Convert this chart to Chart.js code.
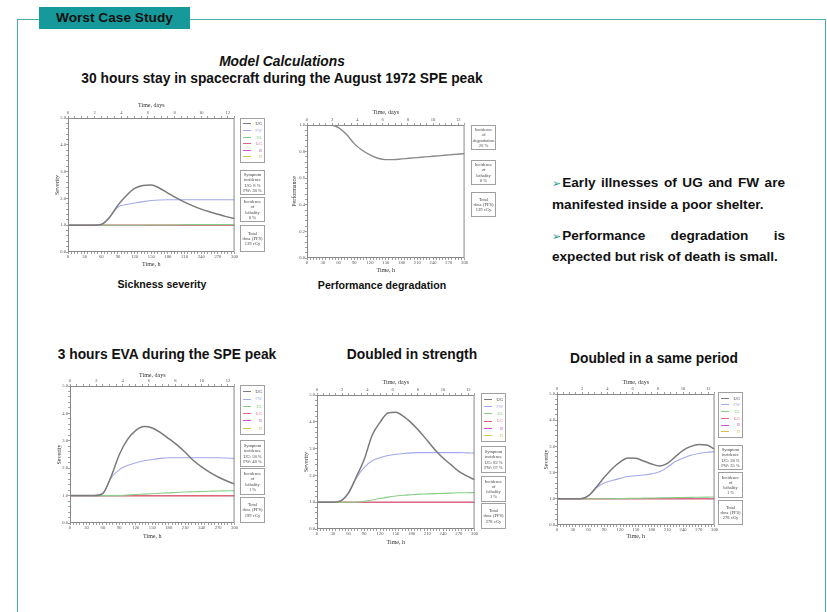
<!DOCTYPE html>
<html>
<head>
<meta charset="utf-8">
<script src="https://cdn.jsdelivr.net/npm/chart.js@4.4.0/dist/chart.umd.min.js"></script>
<style>
  body { margin:0; width:827px; height:612px; position:relative; background:#fff; overflow:hidden;
         font-family:"Liberation Sans", Arial, sans-serif; color:#111; }
  .abs { position:absolute; }
  .frame { left:17px; top:19px; width:807px; height:620px; border:1.5px solid #45aeab; border-bottom:none; }
  .tab { left:39px; top:7px; width:151px; height:22px; background:#16999a; font-weight:bold; font-size:13.7px;
         line-height:22px; padding-left:17px; box-sizing:border-box; color:#111; }
  .head { font-weight:bold; font-size:13.8px; line-height:16px; text-align:center; white-space:nowrap; }
  .cap { font-weight:bold; font-size:10.6px; line-height:12px; text-align:center; white-space:nowrap; }
  .notes { left:552px; top:172px; width:233px; font-weight:bold; font-size:13.6px; line-height:21px; white-space:nowrap; }
  .notes .j { text-align:justify; text-align-last:justify; }
  .notes .gap { height:10px; }
  .notes .last { line-height:19px; }
  .notes .arr { color:#1f9a8c; font-family:"DejaVu Sans"; font-size:11px; margin-right:1px; }
  .soft { filter: blur(0.35px); }
  canvas { position:absolute; }
  .box { position:absolute; border:1px solid #a0a0a0; box-sizing:border-box; font-family:"Liberation Serif", serif;
         font-size:4.5px; line-height:5.2px; text-align:center; color:#444; display:flex; flex-direction:column;
         justify-content:center; background:#fff; }
  .leg { justify-content:space-evenly; align-items:stretch; padding:1px 2px; }
  .leg div { display:flex; align-items:center; justify-content:space-between; }
  .leg span.sw { display:inline-block; width:8px; height:0; border-top:1px solid; }
</style>
</head>
<body>
<div class="abs frame"></div>
<div class="abs tab">Worst Case Study</div>

<div class="abs head" style="left:32px;top:54px;width:500px;font-style:italic;">Model Calculations</div>
<div class="abs head" style="left:32px;top:71px;width:500px;">30 hours stay in spacecraft during the August 1972 SPE peak</div>

<div class="abs cap" style="left:62px;top:278px;width:200px;">Sickness severity</div>
<div class="abs cap" style="left:282px;top:279px;width:200px;">Performance degradation</div>

<div class="abs notes">
  <div class="j"><span class="arr">➢</span>Early illnesses of UG and FW are</div>
  <div>manifested inside a poor shelter.</div>
  <div class="gap"></div>
  <div class="j"><span class="arr">➢</span>Performance degradation is</div>
  <div class="last">expected but risk of death is small.</div>
</div>

<div class="abs head" style="left:17px;top:347px;width:300px;">3 hours EVA during the SPE peak</div>
<div class="abs head" style="left:262px;top:347px;width:300px;">Doubled in strength</div>
<div class="abs head" style="left:504px;top:351px;width:300px;">Doubled in a same period</div>

<div class="soft">
<canvas id="c1"></canvas>
<canvas id="c2"></canvas>
<canvas id="c3"></canvas>
<canvas id="c4"></canvas>
<canvas id="c5"></canvas>
<div id="boxes"></div>
</div>

<script>
// Time grid of the model output, hours after onset
const hours = [0, 15, 30, 45, 60, 75, 90, 105, 120, 135, 150, 165, 180, 195, 210, 225, 240, 255, 270, 285, 300];

// Tick labels
const hourTicks = [0, 30, 60, 90, 120, 150, 180, 210, 240, 270, 300];
const dayTicks = [0, 2, 4, 6, 8, 10, 12];
const severityTicks = [0, 1, 2, 3, 4, 5];
const performanceTicks = [0, 0.2, 0.4, 0.6, 0.8, 1.0];

// Symptom groups
const groups = ['UG', 'FW', 'EL', 'LG', 'B', 'D'];

// 30 h stay in spacecraft — severity
const stayUG = [1, 1, 1, 1, 1.03, 1.3, 1.75, 2.1, 2.37, 2.48, 2.5, 2.38, 2.2, 2.02, 1.86, 1.72, 1.6, 1.5, 1.41, 1.32, 1.25];
const stayFW = [1, 1, 1, 1, 1.03, 1.3, 1.68, 1.77, 1.83, 1.88, 1.92, 1.94, 1.95, 1.95, 1.95, 1.95, 1.95, 1.95, 1.95, 1.95, 1.95];
const stayEL = [1, 1, 1, 1, 1, 1, 1, 1, 1, 1, 1.01, 1.01, 1.01, 1.01, 1.02, 1.02, 1.02, 1.02, 1.02, 1.02, 1.02];

// 30 h stay in spacecraft — performance
const stayPerf = [1, 1, 1, 1, 0.98, 0.93, 0.86, 0.81, 0.775, 0.75, 0.74, 0.74, 0.745, 0.75, 0.755, 0.76, 0.765, 0.77, 0.775, 0.78, 0.785];

// 3 h EVA during the SPE peak
const evaUG = [1, 1, 1, 1, 1.08, 1.7, 2.5, 3.05, 3.38, 3.52, 3.47, 3.3, 3.08, 2.85, 2.58, 2.28, 2.05, 1.85, 1.68, 1.54, 1.42];
const evaFW = [1, 1, 1, 1, 1.08, 1.65, 1.95, 2.1, 2.2, 2.27, 2.32, 2.36, 2.38, 2.38, 2.38, 2.38, 2.38, 2.38, 2.38, 2.37, 2.36];
const evaEL = [1, 1, 1, 1, 1, 1, 1, 1.02, 1.04, 1.055, 1.07, 1.085, 1.1, 1.115, 1.13, 1.14, 1.15, 1.16, 1.17, 1.175, 1.18];

// Doubled in strength
const dblUG = [1, 1, 1, 1.05, 1.35, 1.95, 2.6, 3.5, 3.98, 4.33, 4.36, 4.2, 3.95, 3.65, 3.3, 2.95, 2.65, 2.4, 2.15, 1.98, 1.84];
const dblFW = [1, 1, 1, 1.05, 1.35, 1.9, 2.3, 2.55, 2.66, 2.74, 2.79, 2.82, 2.84, 2.85, 2.85, 2.85, 2.85, 2.85, 2.85, 2.84, 2.83];
const dblEL = [1, 1, 1, 1, 1, 1, 1.03, 1.08, 1.14, 1.19, 1.23, 1.26, 1.28, 1.3, 1.31, 1.32, 1.33, 1.34, 1.35, 1.355, 1.36];

// Doubled in a same period
const perUG = [1, 1, 1, 1, 1.12, 1.45, 1.82, 2.15, 2.4, 2.56, 2.55, 2.44, 2.33, 2.25, 2.35, 2.6, 2.85, 3.0, 3.07, 3.05, 2.9];
const perFW = [1, 1, 1, 1, 1.12, 1.42, 1.6, 1.7, 1.78, 1.85, 1.88, 1.91, 1.95, 2.03, 2.2, 2.42, 2.55, 2.66, 2.73, 2.77, 2.8];
const perEL = [1, 1, 1, 1, 1, 1, 1, 1, 1.01, 1.015, 1.02, 1.025, 1.03, 1.035, 1.04, 1.045, 1.05, 1.055, 1.06, 1.065, 1.07];

// Groups without response stay at the baseline
const baseline = [1, 1, 1, 1, 1, 1, 1, 1, 1, 1, 1, 1, 1, 1, 1, 1, 1, 1, 1, 1, 1];

const groupColors = { UG:'#7a7a7a', FW:'#a3a9ea', EL:'#86cf86', LG:'#e2657e', B:'#cc55cc', D:'#d4c24a' };

const serif = 'Liberation Serif';
const tickFont = { family: serif, size: 4.6 };
const titleFont = { family: serif, size: 6 };

function pts(vals) { return hours.map((h, i) => ({ x: h, y: vals[i] })); }

function stepList(lo, hi, step) {
  const out = [];
  for (let v = lo; v <= hi + 1e-9; v += step) out.push(Math.round(v * 1000) / 1000);
  return out;
}
function isIn(list, v) { return list.some(t => Math.abs(t - v) < 1e-6); }

const frameBox = {
  id: 'frameBox',
  afterDraw(chart) {
    const a = chart.chartArea, ctx = chart.ctx;
    ctx.save();
    ctx.strokeStyle = '#888';
    ctx.lineWidth = 1;
    ctx.strokeRect(a.left + 0.5, a.top + 0.5, a.right - a.left - 1, a.bottom - a.top - 1);
    ctx.restore();
  }
};

function axisStyle() {
  return { drawOnChartArea: false, tickLength: 2, color: '#888', lineWidth: 0.8 };
}

function makeChart(id, plot, yw, ht, hb, datasets, yCfg) {
  const c = document.getElementById(id);
  const left = plot.l - yw, top = plot.t - ht;
  const w = plot.r - left + 3, h = plot.b + hb - top;
  c.style.left = left + 'px'; c.style.top = top + 'px';
  c.style.width = w + 'px'; c.style.height = h + 'px';
  c.width = w; c.height = h;

  return new Chart(c, {
    type: 'line',
    data: { datasets },
    plugins: [frameBox],
    options: {
      responsive: false, animation: false, devicePixelRatio: 1,
      layout: { autoPadding: false, padding: { left: 0, top: 0, right: 3, bottom: 0 } },
      plugins: { legend: { display: false }, tooltip: { enabled: false } },
      elements: { point: { radius: 0 }, line: { cubicInterpolationMode: 'monotone' } },
      scales: {
        x: {
          type: 'linear', position: 'bottom', min: 0, max: 300,
          afterBuildTicks: s => { s.ticks = stepList(0, 300, 6).map(v => ({ value: v })); },
          afterFit: s => { s.height = hb; },
          ticks: { autoSkip: false, maxRotation: 0, padding: 0, color: '#555', font: tickFont,
                   callback: v => isIn(hourTicks, v) ? String(v) : '' },
          grid: axisStyle(), border: { display: false },
          title: { display: true, text: 'Time, h', color: '#333', font: titleFont, padding: 0 }
        },
        xt: {
          type: 'linear', position: 'top', min: 0, max: 300,
          afterBuildTicks: s => { s.ticks = stepList(0, 300, 12).map(v => ({ value: v })); },
          afterFit: s => { s.height = ht; },
          ticks: { autoSkip: false, maxRotation: 0, padding: 0, color: '#555', font: tickFont,
                   callback: v => isIn(dayTicks, v / 24) ? String(v / 24) : '' },
          grid: axisStyle(), border: { display: false },
          title: { display: true, text: 'Time, days', color: '#333', font: titleFont, padding: 0 }
        },
        y: {
          type: 'linear', position: 'left', min: yCfg.min, max: yCfg.max,
          afterBuildTicks: s => { s.ticks = stepList(yCfg.min, yCfg.max, yCfg.minor).map(v => ({ value: v })); },
          afterFit: s => { s.width = yw; },
          ticks: { autoSkip: false, padding: 0, color: '#555', font: tickFont,
                   callback: v => isIn(yCfg.labels, v) ? v.toFixed(1) : '' },
          grid: axisStyle(), border: { display: false },
          title: { display: true, text: yCfg.title, color: '#333', font: titleFont, padding: 0 }
        }
      }
    }
  });
}

function severitySets(ug, fw, el) {
  const src = { UG: ug, FW: fw, EL: el, LG: baseline, B: baseline, D: baseline };
  return groups.map(g => ({
    label: g, data: pts(src[g]), borderColor: groupColors[g],
    borderWidth: g === 'UG' ? 1.5 : 1.1, fill: false
  }));
}

const sevAxis = { min: 0, max: 5, minor: 0.2, labels: severityTicks, title: 'Severity' };
const perfAxis = { min: 0, max: 1, minor: 0.04, labels: performanceTicks, title: 'Performance' };

makeChart('c1', { l: 68, t: 118, r: 235, b: 252 }, 14, 16, 16, severitySets(stayUG, stayFW, stayEL), sevAxis);
makeChart('c2', { l: 307, t: 125, r: 465, b: 258 }, 16, 16, 16,
  [{ label: 'Performance', data: pts(stayPerf), borderColor: '#8a8a8a', borderWidth: 1.4, fill: false }], perfAxis);
makeChart('c3', { l: 70, t: 386, r: 235, b: 523 }, 14, 14, 17, severitySets(evaUG, evaFW, evaEL), sevAxis);
makeChart('c4', { l: 317, t: 395, r: 475, b: 529 }, 14, 16, 17, severitySets(dblUG, dblFW, dblEL), sevAxis);
makeChart('c5', { l: 557, t: 394, r: 715, b: 525 }, 14, 15, 15, severitySets(perUG, perFW, perEL), sevAxis);

// Side panels: group key and summary figures
const boxes = document.getElementById('boxes');
function box(x, y, w, h, html, cls) {
  const d = document.createElement('div');
  d.className = 'box' + (cls ? ' ' + cls : '');
  d.style.left = x + 'px'; d.style.top = y + 'px';
  d.style.width = w + 'px'; d.style.height = h + 'px';
  d.innerHTML = html;
  boxes.appendChild(d);
}
function legendHtml() {
  return groups.map(g =>
    `<div><span class="sw" style="border-color:${groupColors[g]}"></span><span style="color:${g === 'UG' ? '#333' : groupColors[g]}">${g}</span></div>`
  ).join('');
}
function severityPanel(x, yLeg, hLeg, ySym, hSym, yLet, hLet, yDose, hDose, ug, fw, leth, dose) {
  box(x, yLeg, 25, hLeg, legendHtml(), 'leg');
  box(x, ySym, 25, hSym, `Symptom<br>incidence<br>UG: ${ug} %<br>FW: ${fw} %`);
  box(x, yLet, 25, hLet, `Incidence<br>of<br>lethality<br>${leth} %`);
  box(x, yDose, 25, hDose, `Total<br>dose (PFS)<br>${dose} cGy`);
}
severityPanel(240, 118, 45, 170, 25, 197, 25, 225, 27, 8, 38, 0, 139);
box(471, 125, 25, 25, 'Incidence<br>of<br>degradation<br>26 %');
box(471, 160, 25, 25, 'Incidence<br>of<br>lethality<br>0 %');
box(471, 192, 25, 25, 'Total<br>dose (PFS)<br>139 cGy');
severityPanel(240, 385, 50, 440, 27, 468, 27, 497, 26, 58, 48, 1, 199);
severityPanel(481, 393, 49, 446, 27, 476, 26, 503, 26, 82, 67, 1, 278);
severityPanel(718, 392, 46, 445, 25, 472, 26, 500, 25, 28, 35, 1, 278);
</script>
</body>
</html>
